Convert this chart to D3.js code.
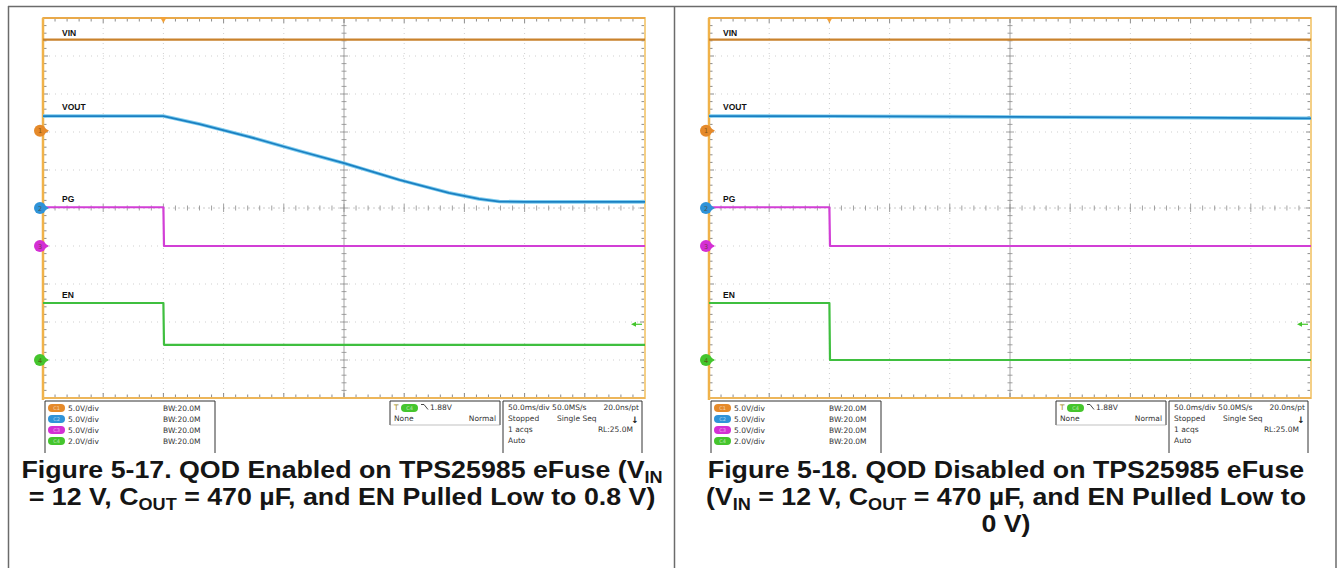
<!DOCTYPE html>
<html>
<head>
<meta charset="utf-8">
<script src="https://cdn.jsdelivr.net/npm/d3@7/dist/d3.min.js"></script>
<style>
  html, body { margin: 0; padding: 0; background: #fff; }
  svg { display: block; }
</style>
</head>
<body>
<svg id="chart" width="1337" height="568"></svg>
<script>
// ---- Acquisition settings (shared by both captures) ----
const timePerDiv = 50;            // ms/div
const hDivs = 10;
const vDivs = 10;
const chScale = [5, 5, 5, 2];     // V/div for CH1..CH4
const chOffset = [2.03, 0, -1.0, -4.0]; // ground marker, divisions above centre
const chNames = ["VIN", "VOUT", "PG", "EN"];
const chColors = ["#c9822c", "#1b80c2", "#d23fd6", "#3fbf3f"];
const chMarkerColors = ["#e58a2a", "#2f93d8", "#d42fd4", "#45c52d"];
const trigLevel = 1.88;           // V on CH4
const trigTime = 100;             // ms from left edge of screen

// ---- Waveforms: time (ms from left edge) and volts ----
const vinT = [0, 500];
const vinV = [12.0, 12.0];

const voutEnT = [0, 100, 130, 172, 213, 250, 296, 337, 362, 379, 400, 500];
const voutEnV = [12.1, 12.1, 11.05, 9.34, 7.5, 5.9, 3.7, 2.0, 1.2, 0.85, 0.8, 0.8];

const voutDisT = [0, 100, 200, 300, 400, 500];
const voutDisV = [12.1, 12.08, 12.02, 11.95, 11.88, 11.8];

const pgT = [0, 100, 100.5, 500];
const pgV = [5.1, 5.1, 0.0, 0.0];

const enT = [0, 100, 100.5, 500];
const enEnV = [3.0, 3.0, 0.8, 0.8];
const enDisV = [3.0, 3.0, 0.0, 0.0];

// ---- Status-bar texts ----
const chStatus = ["5.0V/div", "5.0V/div", "5.0V/div", "2.0V/div"];
const bwStatus = ["BW:20.0M", "BW:20.0M", "BW:20.0M", "BW:20.0M"];
const trigStatus = ["1.88V", "None", "Normal"];
const timeStatus = ["50.0ms/div 50.0MS/s", "20.0ns/pt", "Stopped", "Single Seq", "1 acqs", "RL:25.0M", "Auto"];

// ---- Captions: [text, subscript, text after] per run ----
const captions = [
  [[["Figure 5-17. QOD Enabled on TPS25985 eFuse (V", "IN", ""]],
   [["= 12 V, C", "OUT", " = 470 µF, and EN Pulled Low to 0.8 V)"]]],
  [[["Figure 5-18. QOD Disabled on TPS25985 eFuse", "", ""]],
   [["(V", "IN", " = 12 V, C"], ["", "OUT", " = 470 µF, and EN Pulled Low to"]],
   [["0 V)", "", ""]]]
];

const svg = d3.select("#chart");

// table frame
const frame = svg.append("g").attr("stroke", "#6b6b6b").attr("stroke-width", 1.5).attr("fill", "none");
frame.append("line").attr("x1", 8).attr("x2", 1337).attr("y1", 6.5).attr("y2", 6.5);
frame.append("line").attr("x1", 8.5).attr("x2", 8.5).attr("y1", 6).attr("y2", 568);
frame.append("line").attr("x1", 674.5).attr("x2", 674.5).attr("y1", 6).attr("y2", 568);
frame.append("line").attr("x1", 1336).attr("x2", 1336).attr("y1", 6).attr("y2", 568);

const panels = [
  { x0: 43, labelDx: 19, vout: [voutEnT, voutEnV], en: enEnV, cx: 342 },
  { x0: 709, labelDx: 14, vout: [voutDisT, voutDisV], en: enDisV, cx: 1006 }
];

const W = 602, scrTop = 18, H = 380;

panels.forEach((p, pi) => {
  const g = svg.append("g");
  const x = d3.scaleLinear().domain([0, timePerDiv * hDivs]).range([p.x0, p.x0 + W]);
  const yDiv = d3.scaleLinear().domain([-vDivs / 2, vDivs / 2]).range([scrTop + H, scrTop]);
  const yCh = (ch, v) => yDiv(chOffset[ch] + v / chScale[ch]);

  // graticule: dotted division lines
  const grid = g.append("g");
  d3.range(1, hDivs).forEach(i => {
    if (i === hDivs / 2) return;
    grid.append("line").attr("x1", x(i * timePerDiv)).attr("x2", x(i * timePerDiv))
      .attr("y1", scrTop).attr("y2", scrTop + H)
      .attr("stroke", "#cfcfcf").attr("stroke-width", 1).attr("stroke-dasharray", "1,4");
  });
  d3.range(-vDivs / 2 + 1, vDivs / 2).forEach(j => {
    if (j === 0) return;
    grid.append("line").attr("x1", p.x0).attr("x2", p.x0 + W)
      .attr("y1", yDiv(j)).attr("y2", yDiv(j))
      .attr("stroke", "#cfcfcf").attr("stroke-width", 1).attr("stroke-dasharray", "1,5");
  });
  // centre cross
  grid.append("line").attr("x1", x(250)).attr("x2", x(250)).attr("y1", scrTop).attr("y2", scrTop + H)
    .attr("stroke", "#9a9a9a").attr("stroke-width", 0.9);
  grid.append("line").attr("x1", p.x0).attr("x2", p.x0 + W).attr("y1", yDiv(0)).attr("y2", yDiv(0))
    .attr("stroke", "#bdbdbd").attr("stroke-width", 0.8).attr("stroke-dasharray", "2,3");
  // minor ticks on centre cross and screen edges
  d3.range(0, hDivs * 5 + 1).forEach(k => {
    const xx = x(k * timePerDiv / 5);
    const len = k % 5 === 0 ? 4 : 2.5;
    grid.append("line").attr("x1", xx).attr("x2", xx).attr("y1", yDiv(0) - len).attr("y2", yDiv(0) + len)
      .attr("stroke", "#8a8a8a").attr("stroke-width", 0.8);
    grid.append("line").attr("x1", xx).attr("x2", xx).attr("y1", scrTop).attr("y2", scrTop + len + 1)
      .attr("stroke", "#6f6f6f").attr("stroke-width", 0.8);
    grid.append("line").attr("x1", xx).attr("x2", xx).attr("y1", scrTop + H).attr("y2", scrTop + H - len - 1)
      .attr("stroke", "#6f6f6f").attr("stroke-width", 0.8);
  });
  d3.range(0, vDivs * 5 + 1).forEach(k => {
    const yy = yDiv(-vDivs / 2 + k / 5);
    const len = k % 5 === 0 ? 4 : 2.5;
    grid.append("line").attr("x1", x(250) - len).attr("x2", x(250) + len).attr("y1", yy).attr("y2", yy)
      .attr("stroke", "#8a8a8a").attr("stroke-width", 0.8);
    grid.append("line").attr("x1", p.x0).attr("x2", p.x0 + len + 1).attr("y1", yy).attr("y2", yy)
      .attr("stroke", "#6f6f6f").attr("stroke-width", 0.8);
    grid.append("line").attr("x1", p.x0 + W).attr("x2", p.x0 + W - len - 1).attr("y1", yy).attr("y2", yy)
      .attr("stroke", "#6f6f6f").attr("stroke-width", 0.8);
  });

  // screen border
  g.append("rect").attr("x", p.x0).attr("y", scrTop).attr("width", W).attr("height", H)
    .attr("fill", "none").attr("stroke", "#f4cf86").attr("stroke-width", 2);
  g.append("line").attr("x1", p.x0).attr("x2", p.x0 + W).attr("y1", scrTop).attr("y2", scrTop)
    .attr("stroke", "#e9a94a").attr("stroke-width", 2);
  g.append("line").attr("x1", p.x0).attr("x2", p.x0).attr("y1", scrTop).attr("y2", scrTop + H + 2)
    .attr("stroke", "#f0b24a").attr("stroke-width", 2.5);
  g.append("line").attr("x1", p.x0).attr("x2", p.x0 + W).attr("y1", scrTop + H).attr("y2", scrTop + H)
    .attr("stroke", "#edb65a").attr("stroke-width", 2);

  // traces
  const line = ch => d3.line().x(d => x(d[0])).y(d => yCh(ch, d[1]));
  const zip = (t, v) => t.map((tt, i) => [tt, v[i]]);
  const traces = [
    [0, zip(vinT, vinV)],
    [1, zip(p.vout[0], p.vout[1])],
    [2, zip(pgT, pgV)],
    [3, zip(enT, p.en)]
  ];
  traces.forEach(([ch, data]) => {
    if (ch === 1) {
      g.append("path").datum(data).attr("d", line(ch)).attr("fill", "none")
        .attr("stroke", "#7fcdef").attr("stroke-width", 3.6);
    }
    g.append("path").datum(data).attr("d", line(ch)).attr("fill", "none")
      .attr("stroke", chColors[ch]).attr("stroke-width", ch === 1 ? 1.8 : 2.2)
      .attr("stroke-linejoin", "round");
  });

  // channel labels
  const lblY = [yCh(0, vinV[0]) - 4, yCh(1, p.vout[1][0]) - 6, yCh(2, pgV[0]) - 5, yCh(3, p.en[0]) - 5];
  chNames.forEach((n, ch) => {
    g.append("text").attr("x", p.x0 + p.labelDx).attr("y", lblY[ch])
      .attr("font-family", "Liberation Sans, Arial, sans-serif").attr("font-weight", "bold")
      .attr("font-size", 8.5).attr("fill", "#111").text(n);
  });

  // ground markers
  chOffset.forEach((off, ch) => {
    const yy = yDiv(off);
    const mg = g.append("g");
    mg.append("path").attr("d", `M${p.x0 + 2},${yy - 2.5}L${p.x0 + 6},${yy}L${p.x0 + 2},${yy + 2.5}Z`)
      .attr("fill", chMarkerColors[ch]);
    mg.append("circle").attr("cx", p.x0 - 3).attr("cy", yy).attr("r", 6).attr("fill", chMarkerColors[ch]);
    mg.append("text").attr("x", p.x0 - 3).attr("y", yy + 2.5).attr("text-anchor", "middle")
      .attr("font-family", "DejaVu Sans, sans-serif").attr("font-size", 6.5).attr("fill", "#5a3a10")
      .attr("opacity", 0.7).text(ch + 1);
  });

  // trigger position marker
  const tx = x(trigTime);
  g.append("path").attr("d", `M${tx - 3.5},${scrTop - 1}L${tx + 3.5},${scrTop - 1}L${tx},${scrTop + 5}Z`)
    .attr("fill", "#f2a23a");
  // trigger level marker
  const ty = yCh(3, trigLevel);
  g.append("path").attr("d", `M${p.x0 + W - 14},${ty}L${p.x0 + W - 9},${ty - 2.5}L${p.x0 + W - 9},${ty + 2.5}Z`)
    .attr("fill", chMarkerColors[3]);
  g.append("line").attr("x1", p.x0 + W - 10).attr("x2", p.x0 + W - 3).attr("y1", ty).attr("y2", ty)
    .attr("stroke", chMarkerColors[3]).attr("stroke-width", 1.2);

  // ---- status bar ----
  const st = g.append("g").attr("font-family", "DejaVu Sans, sans-serif").attr("font-size", 7.5).attr("fill", "#333");
  const box = (x1, x2, y1, y2) => st.append("path")
    .attr("d", `M${x1},${y2}L${x1},${y1}L${x2},${y1}L${x2},${y2}`)
    .attr("fill", "none").attr("stroke", "#333").attr("stroke-width", 1);
  box(p.x0 + 2, p.x0 + 172, 401, 453);
  box(p.x0 + 347, p.x0 + 457, 401, 425);
  st.append("line").attr("x1", p.x0 + 347).attr("x2", p.x0 + 457).attr("y1", 425).attr("y2", 425)
    .attr("stroke", "#999").attr("stroke-width", 0.6);
  box(p.x0 + 460, p.x0 + 599, 401, 453);

  chStatus.forEach((s, ch) => {
    const yy = 408 + ch * 11;
    st.append("rect").attr("x", p.x0 + 5).attr("y", yy - 4).attr("width", 17).attr("height", 8)
      .attr("rx", 4).attr("fill", chMarkerColors[ch]);
    st.append("text").attr("x", p.x0 + 13.5).attr("y", yy + 2).attr("text-anchor", "middle")
      .attr("font-size", 5).attr("fill", "#fff").attr("opacity", 0.6).text("C" + (ch + 1));
    st.append("text").attr("x", p.x0 + 25).attr("y", yy + 2.5).text(s);
    st.append("text").attr("x", p.x0 + 120).attr("y", yy + 2.5).text(bwStatus[ch]);
  });

  // trigger readout
  st.append("text").attr("x", p.x0 + 351).attr("y", 410).attr("fill", "#a08a20").text("T");
  st.append("rect").attr("x", p.x0 + 358).attr("y", 404).attr("width", 17).attr("height", 8)
    .attr("rx", 4).attr("fill", chMarkerColors[3]);
  st.append("text").attr("x", p.x0 + 366.5).attr("y", 410).attr("text-anchor", "middle")
    .attr("font-size", 5).attr("fill", "#fff").attr("opacity", 0.6).text("C4");
  st.append("path").attr("d", `M${p.x0 + 378},${404.5}L${p.x0 + 381},${404.5}L${p.x0 + 385},${409.5}`)
    .attr("fill", "none").attr("stroke", "#333").attr("stroke-width", 0.9);
  st.append("text").attr("x", p.x0 + 387).attr("y", 410).text(trigStatus[0]);
  st.append("text").attr("x", p.x0 + 351).attr("y", 421).text(trigStatus[1]);
  st.append("text").attr("x", p.x0 + 453).attr("y", 421).attr("text-anchor", "end").text(trigStatus[2]);

  // timebase readout
  st.append("text").attr("x", p.x0 + 465).attr("y", 410).text(timeStatus[0]);
  st.append("text").attr("x", p.x0 + 596).attr("y", 410).attr("text-anchor", "end").text(timeStatus[1]);
  st.append("text").attr("x", p.x0 + 465).attr("y", 421).text(timeStatus[2]);
  st.append("text").attr("x", p.x0 + 514).attr("y", 421).text(timeStatus[3]);
  st.append("text").attr("x", p.x0 + 592).attr("y", 423).attr("text-anchor", "middle")
    .attr("font-size", 9).attr("font-weight", "bold").attr("fill", "#222").text("↓");
  st.append("text").attr("x", p.x0 + 465).attr("y", 432).text(timeStatus[4]);
  st.append("text").attr("x", p.x0 + 590).attr("y", 432).attr("text-anchor", "end").text(timeStatus[5]);
  st.append("text").attr("x", p.x0 + 465).attr("y", 443).text(timeStatus[6]);

  // caption (wide bold face, centred in the cell)
  const cap = g.append("g").attr("font-family", "Liberation Sans, Arial, sans-serif")
    .attr("font-weight", "bold").attr("fill", "#151515");
  captions[pi].forEach((lineParts, li) => {
    const t = cap.append("text")
      .attr("transform", `translate(${p.cx},${478 + li * 27}) scale(1.13,1)`)
      .attr("x", 0).attr("y", 0)
      .attr("text-anchor", "middle").attr("font-size", 23.7);
    lineParts.forEach(([main, sub, rest]) => {
      if (main) t.append("tspan").text(main);
      if (sub) {
        t.append("tspan").attr("font-size", 16).attr("dy", 4.5).text(sub);
        if (rest) t.append("tspan").attr("dy", -4.5).text(rest);
      } else if (rest) {
        t.append("tspan").text(rest);
      }
    });
  });
});
</script>
</body>
</html>
